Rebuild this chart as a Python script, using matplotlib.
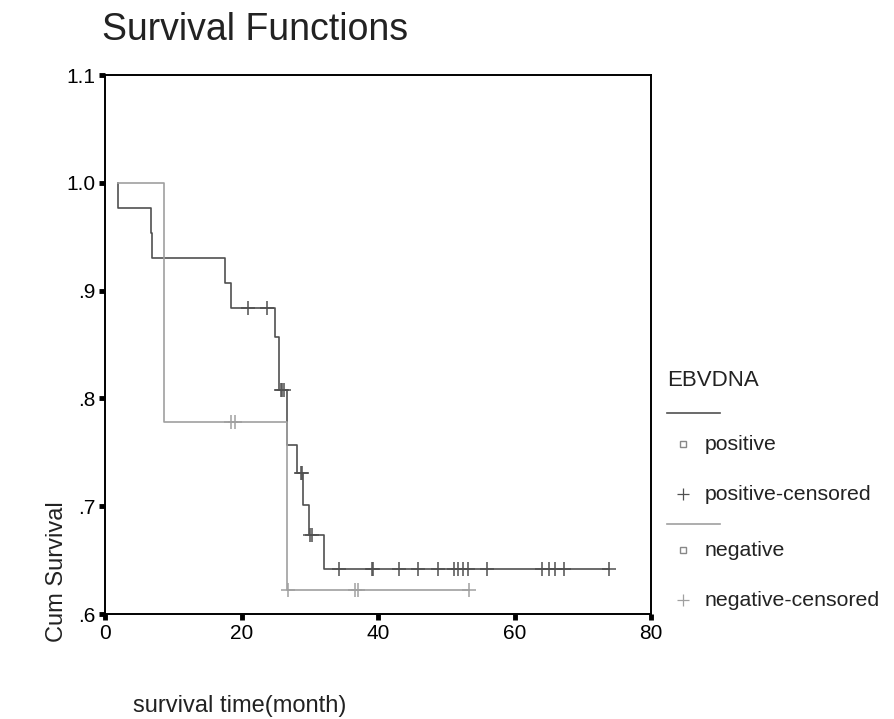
import numpy as np
import matplotlib
matplotlib.use('Agg')
import matplotlib.pyplot as plt
from matplotlib.lines import Line2D

plt.rcParams['font.family'] = ['Liberation Sans', 'DejaVu Sans']

# Kaplan-Meier steps, EBV DNA positive group
pos_start = 1.9
pos_times = [1.9, 6.7, 6.9, 17.6, 18.4, 24.9, 25.5, 26.7, 28.2, 29.0, 29.9, 32.1]
pos_surv = [0.977, 0.953, 0.930, 0.907, 0.884, 0.857, 0.808, 0.757, 0.731, 0.701, 0.673, 0.642]
pos_censored = [20.9, 23.7, 25.8, 26.0, 26.2, 28.7, 28.9, 30.1, 30.3, 34.3, 39.1, 39.3,
                43.1, 45.9, 48.8, 51.1, 51.7, 52.4, 53.2, 56.0, 64.0, 65.0, 66.0, 67.3, 73.9]

# EBV DNA negative group
neg_start = 1.9
neg_times = [8.7, 26.6]
neg_surv = [0.778, 0.622]
neg_censored = [18.5, 19.0, 26.8, 36.6, 37.0, 53.4]

x_ticks = [0, 20, 40, 60, 80]
y_ticks = [0.6, 0.7, 0.8, 0.9, 1.0, 1.1]
y_ticklabels = ['.6', '.7', '.8', '.9', '1.0', '1.1']

dark = '#505050'
light = '#a0a0a0'


def surv_at(t, times, surv):
    idx = np.searchsorted(times, t, side='right') - 1
    return 1.0 if idx < 0 else surv[idx]


def km_curve(ax, start, times, surv, censored, color):
    end = max(censored[-1], times[-1])
    xs = [start] + list(times) + [end]
    ys = [1.0] + list(surv) + [surv[-1]]
    ax.step(xs, ys, where='post', color=color, lw=1.2)
    cy = [surv_at(t, times, surv) for t in censored]
    ax.plot(censored, cy, ls='none', marker='+', ms=10, mew=1.1, color=color)


fig = plt.figure(figsize=(8.94, 7.19), dpi=100)
W, H = 894, 719
ax = fig.add_axes([105 / W, 1 - 614 / H, (651 - 105) / W, (614 - 75) / H])

km_curve(ax, pos_start, pos_times, pos_surv, pos_censored, dark)
km_curve(ax, neg_start, neg_times, neg_surv, neg_censored, light)

ax.set_xlim(0, 80)
ax.set_ylim(0.6, 1.1)
ax.set_xticks(x_ticks)
ax.set_yticks(y_ticks)
ax.set_yticklabels(y_ticklabels)
ax.tick_params(direction='out', length=4, width=3.5, labelsize=15, pad=3, color='black')
for sp in ax.spines.values():
    sp.set_linewidth(1.4)
    sp.set_color('black')

# titles and axis labels
fig.text(102 / W, 1 - 40 / H, 'Survival Functions', fontsize=27, ha='left', va='baseline',
         color='#222222')
fig.text(133 / W, 1 - 712 / H, 'survival time(month)', fontsize=17, ha='left', va='baseline',
         color='#222222')
fig.text(57 / W, 1 - 572 / H, 'Cum Survival', fontsize=17, rotation=90, ha='center', va='center',
         color='#222222')

# legend
fig.text(667 / W, 1 - 381 / H, 'EBVDNA', fontsize=16, ha='left', va='center', color='#222222')
fig.add_artist(Line2D([667 / W, 720 / W], [1 - 413 / H] * 2, color=dark, lw=1.2))
fig.add_artist(Line2D([667 / W, 720 / W], [1 - 524 / H] * 2, color=light, lw=1.2))
entries = [(444, 's', dark, 'positive'),
           (494, '+', dark, 'positive-censored'),
           (550, 's', light, 'negative'),
           (600, '+', light, 'negative-censored')]
for y, m, c, label in entries:
    if m == 's':
        fig.add_artist(Line2D([683 / W], [1 - y / H], marker='s', ms=5, mfc='white',
                              mec='#888888', mew=1, ls='none'))
    else:
        fig.add_artist(Line2D([683 / W], [1 - y / H], marker='+', ms=9, mew=0.9, color=c,
                              ls='none'))
    fig.text(705 / W, 1 - y / H, label, fontsize=15.3, ha='left', va='center', color='#222222')

fig.savefig('out.png', dpi=100)
